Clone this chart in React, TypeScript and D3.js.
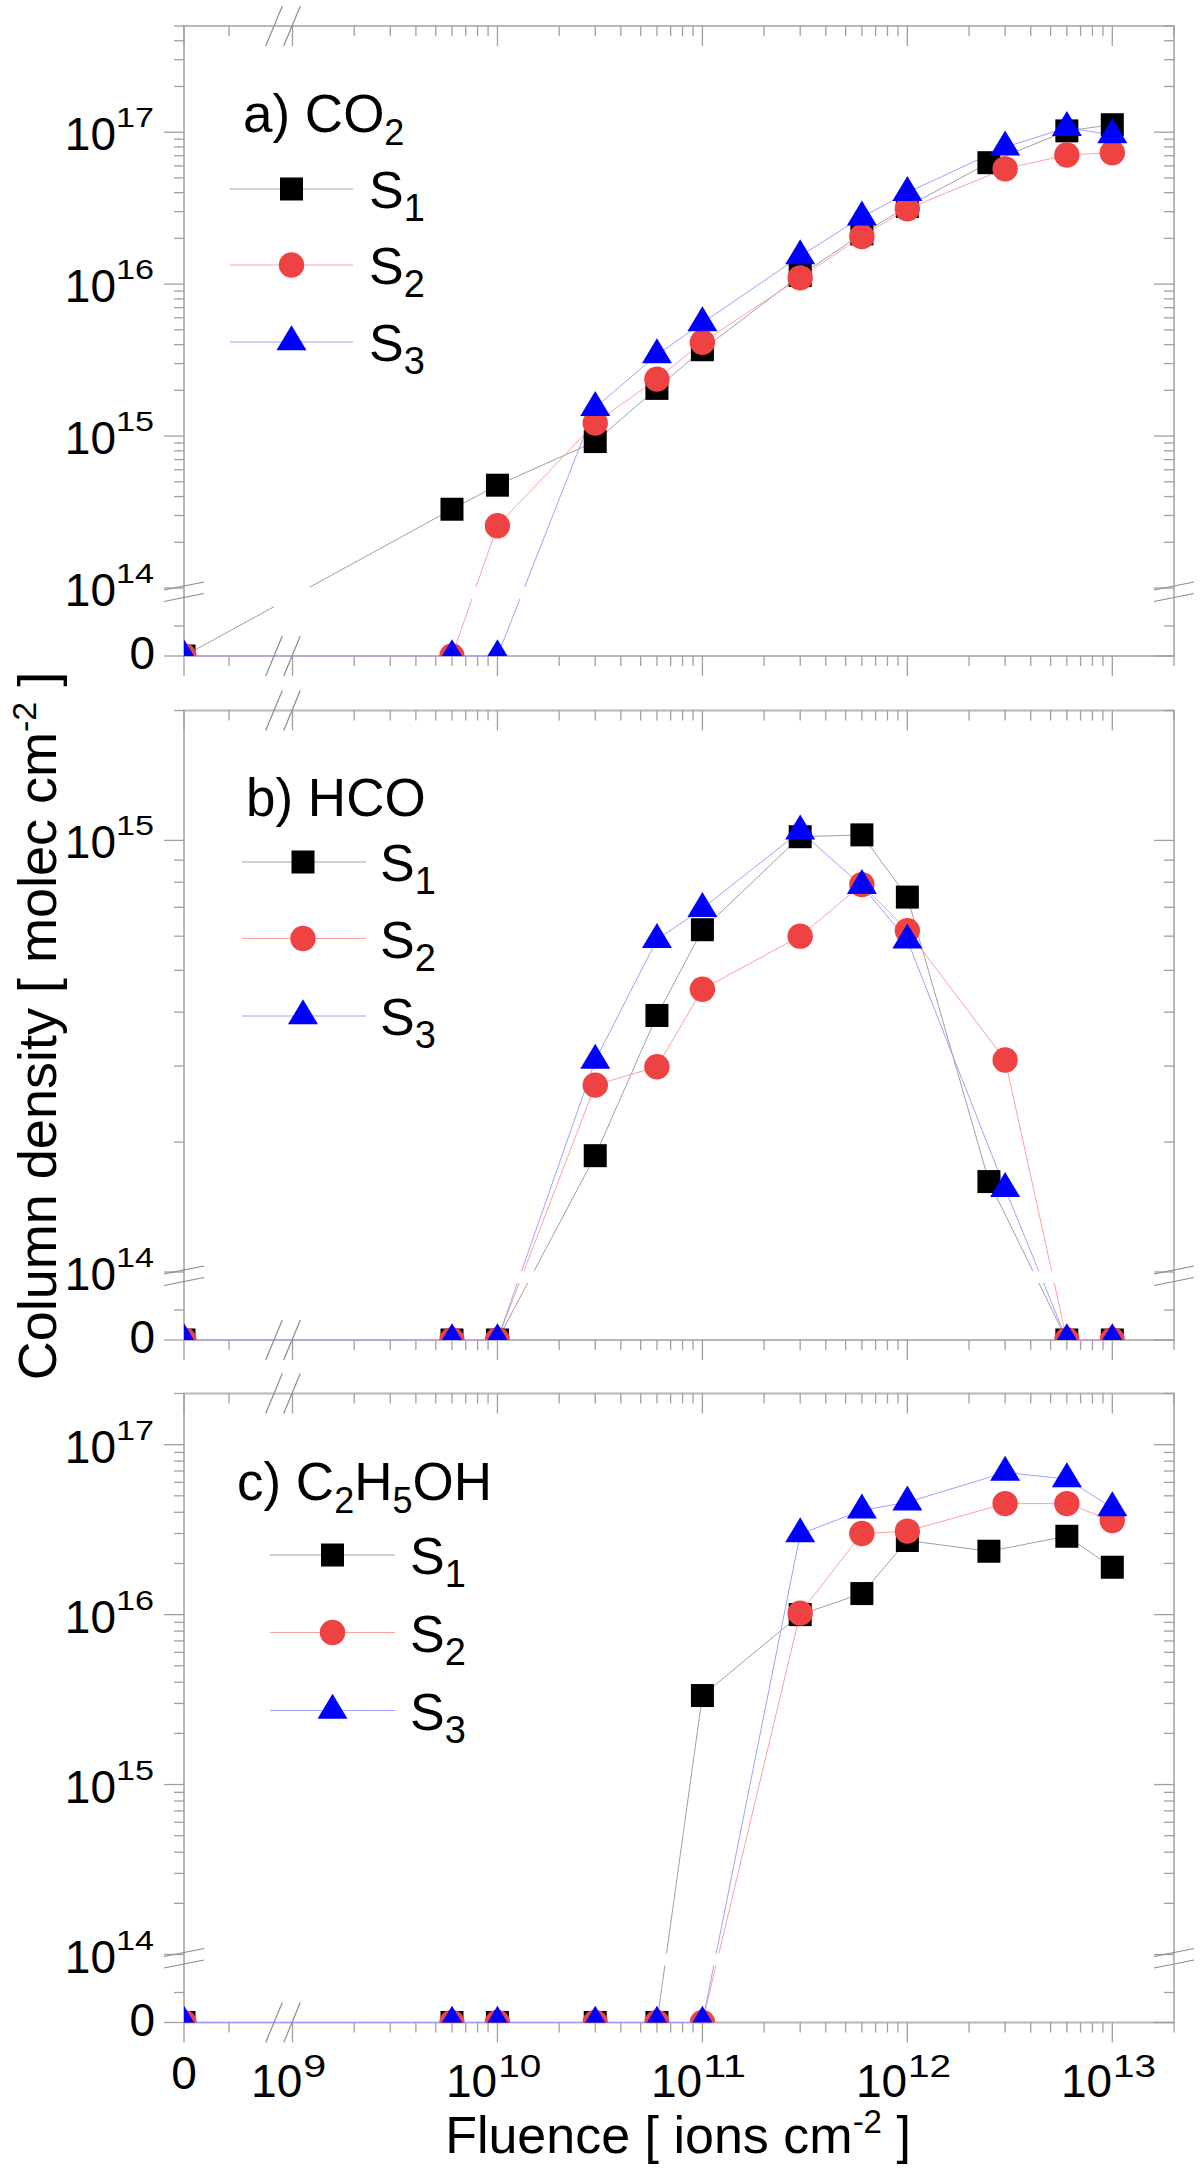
import { useEffect, useRef } from 'react'
import * as d3 from 'd3'

// fluence values (ions cm^-2); S1 has its 5th-from-last point at 2.5e12
const fluenceS1 = [0, 6e9, 1e10, 3e10, 6e10, 1e11, 3e11, 6e11, 1e12, 2.5e12, 6e12, 1e13]
const fluenceS23 = [0, 6e9, 1e10, 3e10, 6e10, 1e11, 3e11, 6e11, 1e12, 3e12, 6e12, 1e13]

// a) CO2
const co2S1 = [0, 3.3e14, 4.75e14, 9.2e14, 2.06e15, 3.7e15, 1.14e16, 2.14e16, 3.24e16, 6.3e16, 1.02e17, 1.12e17]
const co2S2 = [0, 0, 2.57e14, 1.22e15, 2.37e15, 4.14e15, 1.1e16, 2.06e16, 3.13e16, 5.74e16, 7.08e16, 7.33e16]
const co2S3 = [0, 0, 0, 1.54e15, 3.42e15, 5.55e15, 1.53e16, 2.76e16, 4.0e16, 7.98e16, 1.07e17, 9.6e16]

// b) HCO
const hcoS1 = [0, 0, 0, 1.86e14, 3.93e14, 6.21e14, 1.02e15, 1.03e15, 7.39e14, 1.62e14, 0, 0]
const hcoS2 = [0, 0, 0, 2.71e14, 2.99e14, 4.52e14, 6.0e14, 7.9e14, 6.18e14, 3.1e14, 0, 0]
const hcoS3 = [0, 0, 0, 3.09e14, 5.89e14, 6.95e14, 1.05e15, 7.85e14, 5.87e14, 1.56e14, 0, 0]

// c) C2H5OH
const ethS1 = [0, 0, 0, 0, 0, 3.34e15, 1.0e16, 1.33e16, 2.73e16, 2.36e16, 2.89e16, 1.9e16]
const ethS2 = [0, 0, 0, 0, 0, 0, 1.02e16, 3.0e16, 3.1e16, 4.5e16, 4.5e16, 3.58e16]
const ethS3 = [0, 0, 0, 0, 0, 0, 2.98e16, 4.11e16, 4.58e16, 6.86e16, 6.28e16, 4.24e16]

const seriesNames = ['1', '2', '3']
const xTickExps = [9, 10, 11, 12, 13]
const yTickExpsA = [14, 15, 16, 17]
const yTickExpsB = [14, 15]
const yTickExpsC = [14, 15, 16, 17]

const FONT = 'Liberation Sans, Arial, Helvetica, sans-serif'
const markerFill = ['#000000', '#ef4242', '#0000ff']
const lineStroke = ['#a0a0a0', '#ffa0a0', '#a0a0ff']
const markerKind = ['square', 'circle', 'triangle']

export default function App() {
  const ref = useRef<SVGSVGElement>(null)

  useEffect(() => {
    if (!ref.current) return
    const svg = d3.select(ref.current)
    svg.selectAll('*').remove()

    const left = 184
    const right = 1174
    const xBreak = [274, 292]
    const xLog = d3.scaleLog().domain([1e9, 2e13]).range([292.5, right])
    const xPos = (f: number) => (f === 0 ? left : xLog(f))

    const panels = [
      {
        top: 26, zero: 656, yMax: 5e17, exps: yTickExpsA,
        label: [['a) CO', 0], ['2', 1]], labelX: 243, labelY: 132,
        leg: { x1: 230, x2: 353, mx: 291.5, tx: 369, rows: [189, 265, 342] },
        data: [co2S1, co2S2, co2S3],
      },
      {
        top: 710.5, zero: 1340, yMax: 2e15, exps: yTickExpsB,
        label: [['b) HCO', 0]], labelX: 246, labelY: 816,
        leg: { x1: 242, x2: 366, mx: 303, tx: 380, rows: [862, 938.5, 1016] },
        data: [hcoS1, hcoS2, hcoS3],
      },
      {
        top: 1393.5, zero: 2022.5, yMax: 2e17, exps: yTickExpsC,
        label: [['c) C', 0], ['2', 1], ['H', 0], ['5', 1], ['OH', 0]], labelX: 237, labelY: 1500,
        leg: { x1: 270, x2: 395, mx: 332.5, tx: 410, rows: [1555, 1632.5, 1710.5] },
        data: [ethS1, ethS2, ethS3],
      },
    ]

    const defs = svg.append('defs')

    const drawMarker = (g: any, k: number, cx: number, cy: number) => {
      const kind = markerKind[k]
      if (kind === 'square') {
        g.append('rect').attr('x', cx - 11.5).attr('y', cy - 11.5).attr('width', 23).attr('height', 23)
          .attr('fill', markerFill[k])
      } else if (kind === 'circle') {
        g.append('circle').attr('cx', cx).attr('cy', cy).attr('r', 12.7).attr('fill', markerFill[k])
      } else {
        g.append('path')
          .attr('d', `M${cx},${cy - 16.7}L${cx + 15},${cy + 8.3}L${cx - 15},${cy + 8.3}Z`)
          .attr('fill', markerFill[k])
      }
    }

    panels.forEach((p, pi) => {
      const yLog = d3.scaleLog().domain([1e14, p.yMax]).range([p.zero - 68, p.top])
      const yPos = (v: number) => (v === 0 ? p.zero : yLog(v))
      const g = svg.append('g')

      // masks / clips
      const mask = defs.append('mask').attr('id', `lm${pi}`)
        .attr('maskUnits', 'userSpaceOnUse').attr('x', 0).attr('y', 0).attr('width', 1200).attr('height', 2174)
      mask.append('rect').attr('x', left).attr('y', p.top).attr('width', right - left).attr('height', p.zero - p.top + 3).attr('fill', '#fff')
      mask.append('rect').attr('x', xBreak[0]).attr('y', p.top).attr('width', xBreak[1] - xBreak[0]).attr('height', p.zero - p.top - 3).attr('fill', '#000')
      mask.append('rect').attr('x', left - 5).attr('y', p.zero - 69).attr('width', right - left + 10).attr('height', 12).attr('fill', '#000')
      defs.append('clipPath').attr('id', `mc${pi}`)
        .append('rect').attr('x', left).attr('y', p.top).attr('width', right - left).attr('height', p.zero - p.top)

      // frame
      g.append('rect').attr('x', left).attr('y', p.top).attr('width', right - left).attr('height', p.zero - p.top)
        .attr('fill', 'none').attr('stroke', '#b8b8b8').attr('stroke-width', 2)

      // x ticks (pointing down on both edges)
      const xt: { x: number; major: boolean }[] = [{ x: left, major: true }, { x: (left + xBreak[0]) / 2, major: false }]
      xTickExps.forEach(e => {
        xt.push({ x: xLog(10 ** e), major: true })
        for (let k = 2; k <= 9; k++) {
          const v = k * 10 ** e
          if (v <= 2e13) xt.push({ x: xLog(v), major: false })
        }
      })
      xt.forEach(t => {
        const len = t.major ? 20 : 10
        g.append('line').attr('x1', t.x).attr('x2', t.x).attr('y1', p.top).attr('y2', p.top + len)
          .attr('stroke', '#a0a0a0').attr('stroke-width', 1.3)
        g.append('line').attr('x1', t.x).attr('x2', t.x).attr('y1', p.zero).attr('y2', p.zero + len)
          .attr('stroke', '#a0a0a0').attr('stroke-width', 1.3)
      })

      // y ticks (pointing left on both edges)
      const yt: { y: number; major: boolean }[] = [{ y: p.zero, major: true }, { y: p.zero - 30, major: false }]
      for (let e = 14; 10 ** e <= p.yMax; e++) {
        yt.push({ y: yLog(10 ** e), major: true })
        for (let k = 2; k <= 9; k++) {
          const v = k * 10 ** e
          if (v <= p.yMax) yt.push({ y: yLog(v), major: false })
        }
      }
      yt.forEach(t => {
        const len = t.major ? 20 : 10
        g.append('line').attr('x1', left - len).attr('x2', left).attr('y1', t.y).attr('y2', t.y)
          .attr('stroke', '#a0a0a0').attr('stroke-width', 1.3)
        g.append('line').attr('x1', right - len).attr('x2', right).attr('y1', t.y).attr('y2', t.y)
          .attr('stroke', '#a0a0a0').attr('stroke-width', 1.3)
      })

      // y tick labels
      g.append('text').attr('x', 155).attr('y', p.zero + 13).attr('text-anchor', 'end')
        .style('font-family', FONT).style('font-size', '46px').text('0')
      p.exps.forEach(e => {
        const y = yLog(10 ** e)
        g.append('text').attr('x', 116).attr('y', y + 18).attr('text-anchor', 'end')
          .style('font-family', FONT).style('font-size', '46px').text('10')
        g.append('text').attr('x', 154).attr('y', y - 5).attr('text-anchor', 'end')
          .attr('textLength', 38).attr('lengthAdjust', 'spacingAndGlyphs')
          .style('font-family', FONT).style('font-size', '27px').text(String(e))
      })

      // lines
      const line = d3.line<[number, number]>().x(d => xPos(d[0])).y(d => yPos(d[1]))
      const lg = g.append('g').attr('mask', `url(#lm${pi})`)
      p.data.forEach((vals, si) => {
        const fl = si === 0 ? fluenceS1 : fluenceS23
        const pts = vals.map((v, i) => [fl[i], v] as [number, number])
        lg.append('path').attr('d', line(pts)).attr('fill', 'none')
          .attr('stroke', lineStroke[si]).attr('stroke-width', 1)
      })

      // markers
      const mg = g.append('g').attr('clip-path', `url(#mc${pi})`)
      p.data.forEach((vals, si) => {
        const fl = si === 0 ? fluenceS1 : fluenceS23
        vals.forEach((v, i) => drawMarker(mg, si, xPos(fl[i]), yPos(v)))
      })

      // break marks
      const bm = (x1: number, y1: number, x2: number, y2: number) =>
        g.append('line').attr('x1', x1).attr('y1', y1).attr('x2', x2).attr('y2', y2)
          .attr('stroke', '#8c8c8c').attr('stroke-width', 1.2)
      ;[p.top, p.zero].forEach(yy => {
        xBreak.forEach(bx => bm(bx - 8.3, yy + 20, bx + 8.3, yy - 20))
      })
      ;[left, right].forEach(xx => {
        ;[p.zero - 70, p.zero - 58.5].forEach(by => bm(xx - 20, by + 4, xx + 20, by - 4))
      })

      // panel label
      const lt = g.append('text').attr('x', p.labelX).attr('y', p.labelY)
        .style('font-family', FONT).style('font-size', '53px')
      let shifted = false
      p.label.forEach(([s, sub]) => {
        const ts = lt.append('tspan').text(s as string)
        if (sub) {
          ts.attr('dy', 13).style('font-size', '36px')
          shifted = true
        } else if (shifted) {
          ts.attr('dy', -13)
          shifted = false
        }
      })

      // legend
      seriesNames.forEach((n, si) => {
        const y = p.leg.rows[si]
        g.append('line').attr('x1', p.leg.x1).attr('x2', p.leg.x2).attr('y1', y).attr('y2', y)
          .attr('stroke', lineStroke[si]).attr('stroke-width', 1)
        drawMarker(g, si, p.leg.mx, y)
        const t = g.append('text').attr('x', p.leg.tx).attr('y', y + 19)
          .style('font-family', FONT).style('font-size', '52px')
        t.append('tspan').text('S')
        t.append('tspan').attr('dy', 13).style('font-size', '38px').text(n)
      })

      // x tick labels on the bottom panel only
      if (pi === panels.length - 1) {
        g.append('text').attr('x', left).attr('y', p.zero + 66).attr('text-anchor', 'middle')
          .style('font-family', FONT).style('font-size', '46px').text('0')
        xTickExps.forEach(e => {
          const tx = xLog(10 ** e)
          const supW = e >= 10 ? 43 : 23
          const total = 42 + supW + 1.5
          const mainEnd = tx - total / 2 + 43
          g.append('text').attr('x', mainEnd).attr('y', p.zero + 74.5).attr('text-anchor', 'end')
            .style('font-family', FONT).style('font-size', '46px').text('10')
          g.append('text').attr('x', mainEnd + 1).attr('y', p.zero + 54)
            .attr('textLength', supW).attr('lengthAdjust', 'spacingAndGlyphs')
            .style('font-family', FONT).style('font-size', '31px').text(String(e))
        })
      }
    })

    // axis titles
    const yt = svg.append('text').attr('transform', 'translate(56,1026) rotate(-90)')
      .attr('text-anchor', 'middle').style('font-family', FONT).style('font-size', '54px')
    yt.append('tspan').text('Column density [ molec cm')
    yt.append('tspan').attr('dy', -20).style('font-size', '34px').text('-2')
    yt.append('tspan').attr('dy', 20).text(' ]')

    const xt = svg.append('text').attr('x', 678).attr('y', 2153)
      .attr('text-anchor', 'middle').style('font-family', FONT).style('font-size', '52px')
    xt.append('tspan').text('Fluence [ ions cm')
    xt.append('tspan').attr('dy', -20).style('font-size', '33px').text('-2')
    xt.append('tspan').attr('dy', 20).text(' ]')

    return () => { svg.selectAll('*').remove() }
  }, [])

  return (
    <svg ref={ref} width={1200} height={2174}
      style={{ position: 'absolute', left: 0, top: 0, background: '#fff' }} />
  )
}
